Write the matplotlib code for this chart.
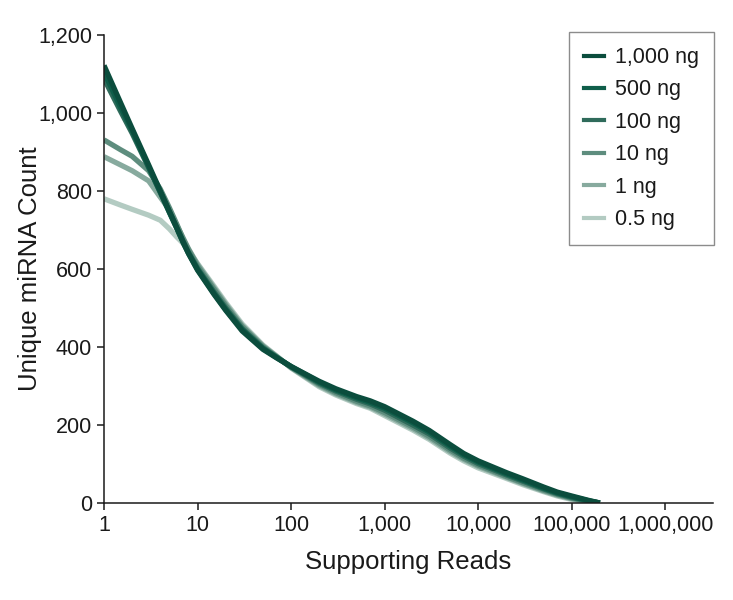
import matplotlib
matplotlib.use("Agg")
import matplotlib.pyplot as plt
from matplotlib.ticker import FixedLocator, NullLocator
from matplotlib.lines import Line2D

plt.rcParams['font.family'] = ['Liberation Sans', 'DejaVu Sans']

# Supporting reads (x) sample positions
reads = [1, 1.5, 2, 3, 4, 5, 6, 7, 8, 10, 15, 20, 30, 50, 70, 100, 200, 300, 500,
         700, 1000, 2000, 3000, 5000, 7000, 10000, 20000, 30000, 50000, 70000,
         100000, 150000, 200000]

counts_1000ng = [1122, 1027, 960, 867, 800, 748, 706, 670, 640, 597, 535, 494, 441, 394,
                 372, 350, 312, 293, 273, 262, 247, 210, 186, 150, 127, 108, 78, 62, 41,
                 28, 18, 7, 0]
counts_500ng = [1105, 1015, 955, 862, 797, 745, 704, 668, 640, 599, 537, 496, 444, 396,
                373, 350, 310, 290, 270, 258, 243, 206, 182, 146, 124, 105, 75, 59, 38,
                26, 16, 6, 0]
counts_100ng = [1088, 1005, 948, 860, 796, 746, 706, 671, 643, 602, 541, 500, 447, 398,
                374, 349, 307, 287, 266, 254, 238, 200, 177, 141, 120, 101, 72, 56, 36,
                24, 14, 5, 0]
counts_10ng = [931, 906, 889, 852, 805, 757, 715, 678, 650, 608, 548, 506, 452, 401,
               375, 348, 304, 283, 261, 249, 232, 195, 171, 136, 115, 97, 68, 52, 33,
               22, 12, 4, 0]
counts_1ng = [888, 867, 852, 826, 784, 752, 712, 680, 652, 612, 552, 510, 455, 403,
              376, 347, 301, 280, 258, 246, 228, 191, 167, 132, 112, 94, 66, 50, 31,
              20, 11, 3, 0]
counts_05ng = [780, 764, 753, 738, 725, 703, 682, 666, 646, 614, 556, 514, 459, 405,
               377, 346, 298, 277, 255, 243, 224, 187, 163, 128, 108, 90, 63, 47, 29,
               18, 9, 2, 0]

labels = ['1,000 ng', '500 ng', '100 ng', '10 ng', '1 ng', '0.5 ng']
series = [counts_1000ng, counts_500ng, counts_100ng, counts_10ng, counts_1ng, counts_05ng]
colors = ['#0b4d3d', '#0f5e4a', '#2f6b5b', '#5e8d7e', '#87aa9e', '#b3cbc2']

x_ticks = [1, 10, 100, 1000, 10000, 100000, 1000000]
x_ticklabels = ['1', '10', '100', '1,000', '10,000', '100,000', '1,000,000']
y_ticks = [0, 200, 400, 600, 800, 1000, 1200]
y_ticklabels = ['0', '200', '400', '600', '800', '1,000', '1,200']

fig = plt.figure(figsize=(7.33, 6.0), dpi=100)
ax = fig.add_axes([104/733, 1 - 503/600, (713-104)/733, (503-35)/600])

for lab, ys, c in reversed(list(zip(labels, series, colors))):
    ax.plot(reads, ys, color=c, lw=3.8, solid_capstyle='butt',
            solid_joinstyle='round')

ax.set_xscale('log')
ax.set_xlim(1, 10**6.51)
ax.set_ylim(0, 1200)
ax.xaxis.set_major_locator(FixedLocator(x_ticks))
ax.xaxis.set_minor_locator(NullLocator())
ax.set_xticklabels(x_ticklabels)
ax.set_yticks(y_ticks)
ax.set_yticklabels(y_ticklabels)

for s in ['top', 'right']:
    ax.spines[s].set_visible(False)
for s in ['left', 'bottom']:
    ax.spines[s].set_linewidth(1.1)
    ax.spines[s].set_color('#1a1a1a')
ax.tick_params(axis='both', direction='out', length=5, width=1.1, labelsize=15.5,
               color='#1a1a1a', labelcolor='#1a1a1a', pad=3.5)

ax.set_xlabel('Supporting Reads', fontsize=18.5, color='#1a1a1a', labelpad=10)
ax.set_ylabel('Unique miRNA Count', fontsize=18.5, color='#1a1a1a', labelpad=-3)

leg_handles = [Line2D([], [], color=c, lw=3) for c in colors]
leg = fig.legend(leg_handles, labels, loc='upper right',
                 bbox_to_anchor=(714/733, 1 - 32/600), fontsize=15.5,
                 frameon=True, fancybox=False, framealpha=1, edgecolor='#8c8c8c',
                 handlelength=0.95, handletextpad=0.5, labelspacing=0.53,
                 borderpad=0.7, borderaxespad=0)
leg.get_frame().set_linewidth(1.0)
for t in leg.get_texts():
    t.set_color('#1a1a1a')

fig.savefig('out.png', dpi=100)
